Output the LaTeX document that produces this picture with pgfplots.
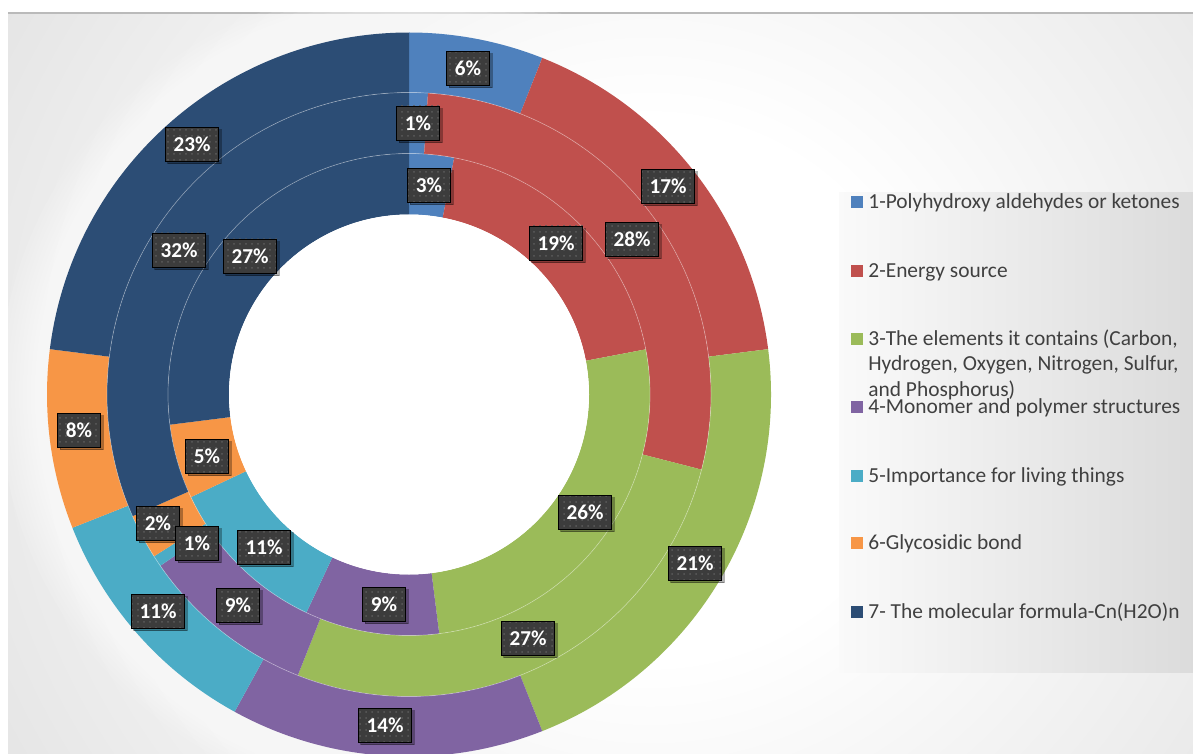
\documentclass[border=0pt]{standalone}
\usepackage{pgfplots}
\pgfplotsset{compat=1.18}
\usepackage{pgfplotstable}
\usepackage{fontspec}
\setmainfont{Carlito}
\usetikzlibrary{shadows,patterns}

\definecolor{c0}{HTML}{4F81BD}
\definecolor{c1}{HTML}{C0504D}
\definecolor{c2}{HTML}{9BBB59}
\definecolor{c3}{HTML}{8064A2}
\definecolor{c4}{HTML}{4BACC6}
\definecolor{c5}{HTML}{F79646}
\definecolor{c6}{HTML}{2C4D75}
\definecolor{labbg}{HTML}{3C3C3C}
\definecolor{legtext}{HTML}{404040}

\pgfdeclareradialshading{bgshade}{\pgfpoint{0bp}{0bp}}{color(0bp)=(white); color(9bp)=(white); color(45bp)=(black!23); color(50bp)=(black!23)}
\pgfdeclareradialshading{holeshade}{\pgfpoint{5bp}{-5bp}}{color(0bp)=(white); color(34bp)=(white); color(56bp)=(black!16)}

% ring values (percent), rows = categories 1..7
\pgfplotstableread{
cat outer middle inner
1 6 1 3
2 17 28 19
3 21 27 26
4 14 9.4 9
5 11 0.6 11
6 8 2.4 5
7 23 31.6 27
}\ringdata

% data labels: position (pixels) and text
\pgfplotstableread{
x y lab
468 68 6
668 186 17
695 563 21
385 725 14
158 611 11
79 430 8
192 144 23
418 123 1
632 239 28
528 638 27
238 605 9
158 523 2
197 543 1
179 250 32
429 185 3
556 243 19
585 512 26
384 604 9
264 547 11
207 456 5
250 256 27
}\labeldata

\newcommand\ringangles[2]{%
  \gdef\cumsum{0}%
  \foreach \i in {0,...,6}{%
    \pgfplotstablegetelem{\i}{#1}\of\ringdata
    \pgfmathsetmacro\tmpa{90-3.6*\cumsum}%
    \pgfmathsetmacro\tmpsum{\cumsum+\pgfplotsretval}%
    \xdef\cumsum{\tmpsum}%
    \pgfmathsetmacro\tmpb{90-3.6*\cumsum}%
    \expandafter\xdef\csname #2s\i\endcsname{\tmpa}%
    \expandafter\xdef\csname #2e\i\endcsname{\tmpb}%
  }%
}

\newcommand\ringwedge[5]{%
  \edef\wa{#1}\edef\wb{#2}%
  \edef\tmpcmd{\noexpand\fill[#5] (axis cs:409,394.5) ++(\wa:#3)
    arc[start angle=\wa, end angle=\wb, radius=#3]
    -- ++(\wb+180:#3-#4) arc[start angle=\wb, end angle=\wa, radius=#4] -- cycle;}%
  \tmpcmd
}

\begin{document}
\begin{tikzpicture}
\ringangles{outer}{O}%
\ringangles{middle}{M}%
\ringangles{inner}{I}%
\useasboundingbox (0,0) rectangle (596.5pt,377pt);
\clip (0,0) rectangle (596.5pt,377pt);
\begin{axis}[at={(0,0)}, anchor=south west, x=0.5pt, y=0.5pt,
  xmin=0, xmax=1193, ymin=0, ymax=754, y dir=reverse,
  hide axis, clip=false]
  % background
  \fill[white] (axis cs:0,0) rectangle (axis cs:1193,754);
  \begin{scope}
    \clip (axis cs:8,13) rectangle (axis cs:1193,760);
    \shade[shading=bgshade] (axis cs:650,390) circle[radius=375pt];
  \end{scope}
  \draw[black!27, line width=0.6pt] (axis cs:8,13) -- (axis cs:1193,13);
  % legend box
  \shade[left color=black!2, right color=black!14] (axis cs:839,193) rectangle (axis cs:1193,672);
  % glow around donut
  \pgfplotsinvokeforeach{1,...,12}{
    \fill[white, opacity=0.1] (axis cs:409,394.5) circle[radius=181pt+#1*2pt];
  }
  % rings
  \pgfplotsinvokeforeach{0,...,6}{
    \ringwedge{\csname Os#1\endcsname}{\csname Oe#1\endcsname}{181pt}{151pt}{c#1}
    \ringwedge{\csname Ms#1\endcsname}{\csname Me#1\endcsname}{151pt}{120.5pt}{c#1}
    \ringwedge{\csname Is#1\endcsname}{\csname Ie#1\endcsname}{120.5pt}{90pt}{c#1}
  }
  \draw[white, opacity=0.35, line width=0.35pt] (axis cs:409,394.5) circle[radius=151pt];
  \draw[white, opacity=0.35, line width=0.35pt] (axis cs:409,394.5) circle[radius=120.5pt];
  % hole
  \shade[shading=holeshade] (axis cs:409,394.5) circle[radius=90pt];
  % data labels
  \addplot[only marks, mark=none, point meta=explicit symbolic,
    nodes near coords={\pgfplotspointmeta\%},
    every node near coord/.append style={anchor=center, fill=labbg, text=white,
      font=\fontsize{10.6}{12}\selectfont\bfseries,
      minimum height=17pt, inner xsep=4.2pt, inner ysep=0pt,
      drop shadow={shadow xshift=1.3pt, shadow yshift=-1.3pt, opacity=0.3, fill=black},
      postaction={pattern=dots, pattern color=black!64}}]
    table[x=x, y=y, meta=lab] {\labeldata};
  % legend
  \fill[c0] (axis cs:851,196) rectangle (axis cs:863,208);
  \fill[c1] (axis cs:851,265) rectangle (axis cs:863,277);
  \fill[c2] (axis cs:851,333) rectangle (axis cs:863,345);
  \fill[c3] (axis cs:851,401) rectangle (axis cs:863,413);
  \fill[c4] (axis cs:851,470) rectangle (axis cs:863,482);
  \fill[c5] (axis cs:851,537) rectangle (axis cs:863,549);
  \fill[c6] (axis cs:851,606) rectangle (axis cs:863,618);
  \begin{scope}[every node/.style={anchor=base west, inner sep=0pt, text=legtext, font=\fontsize{10.7}{12}\selectfont}]
    \node at (axis cs:868,208.3) {1-Polyhydroxy aldehydes or ketones};
    \node at (axis cs:868,277.2) {2-Energy source};
    \node at (axis cs:868,345.5) {3-The elements it contains (Carbon,};
    \node at (axis cs:868,370.8) {Hydrogen, Oxygen, Nitrogen, Sulfur,};
    \node at (axis cs:868,396.5) {and Phosphorus)};
    \node at (axis cs:868,413.2) {4-Monomer and polymer structures};
    \node at (axis cs:868,482.2) {5-Importance for living things};
    \node at (axis cs:868,549.8) {6-Glycosidic bond};
    \node at (axis cs:868,618.2) {7- The molecular formula-Cn(H2O)n};
  \end{scope}
\end{axis}
\end{tikzpicture}
\end{document}
